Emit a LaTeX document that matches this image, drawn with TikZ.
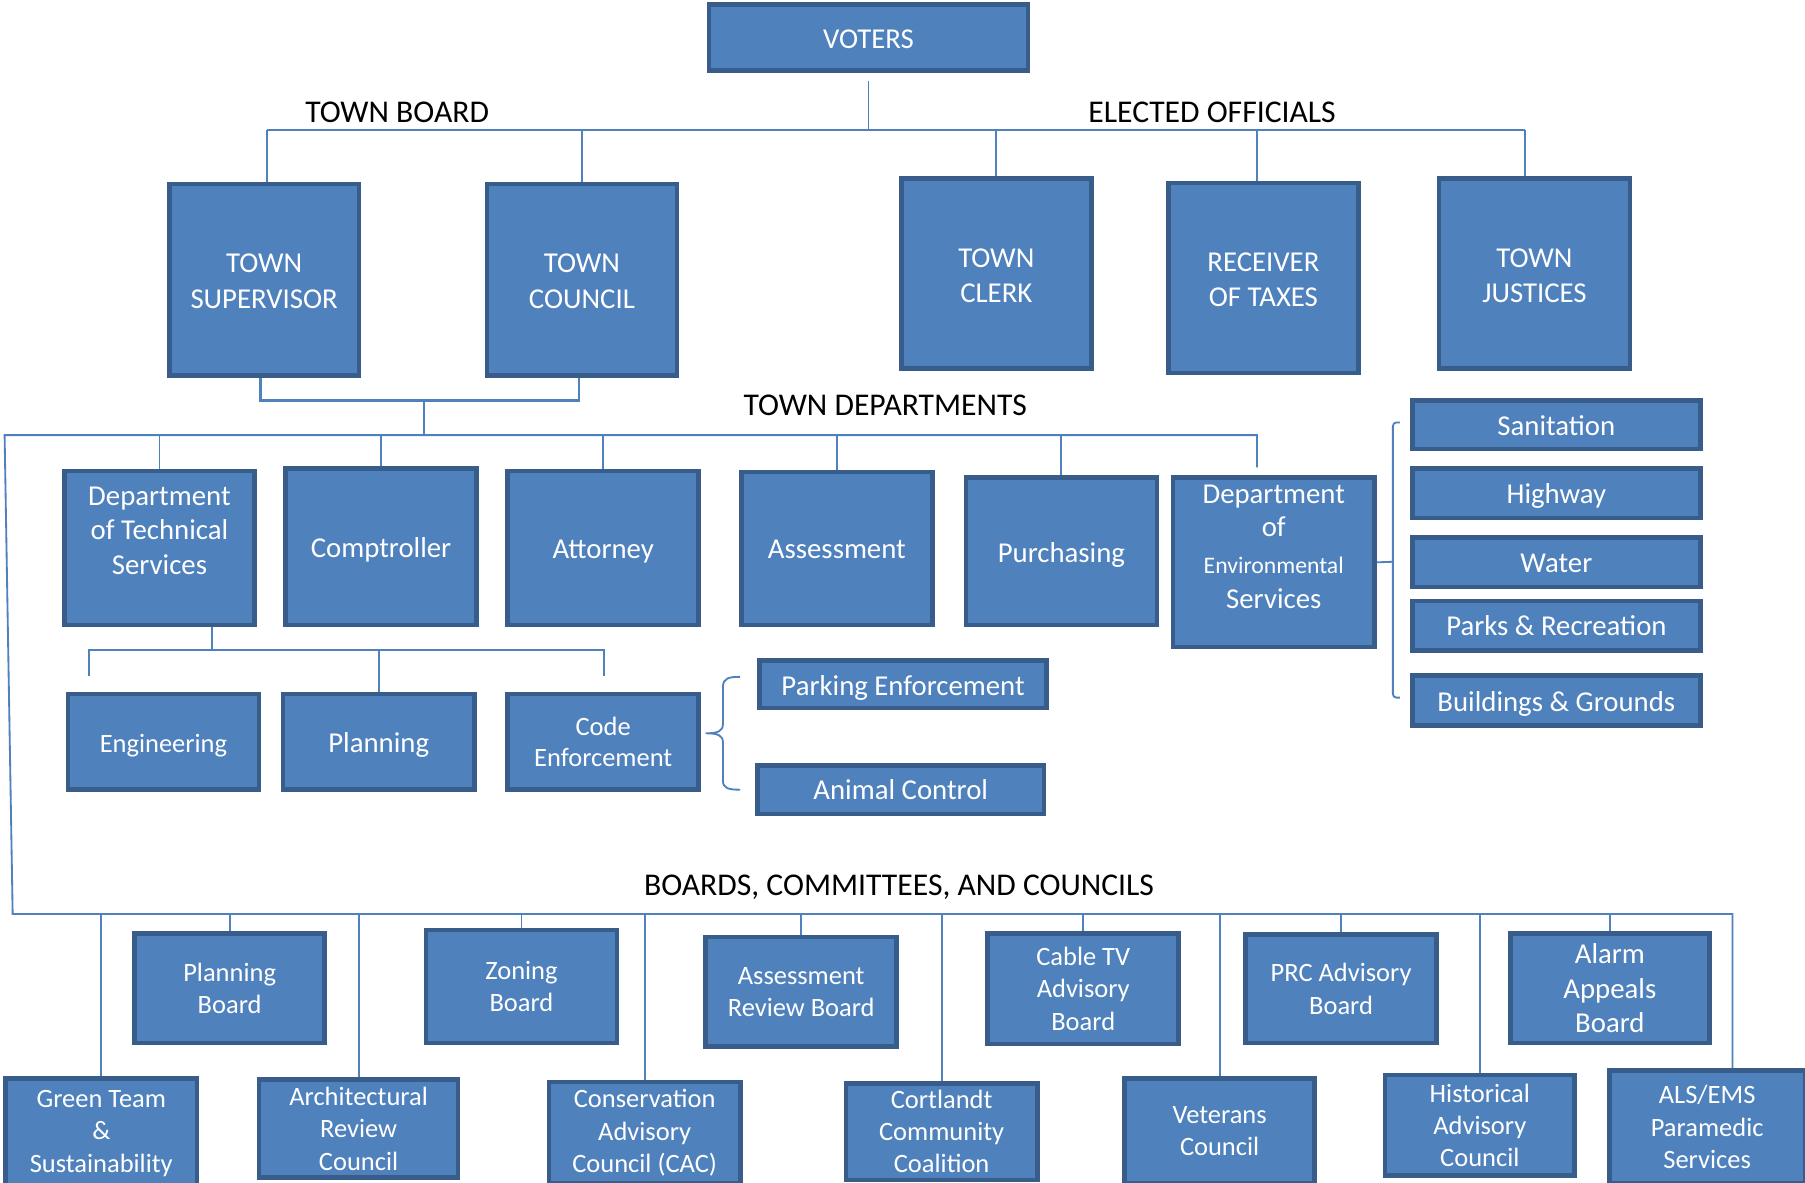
\documentclass[tikz,border=0pt]{standalone}
\usepackage{fontspec}
\setmainfont{Carlito}
\definecolor{boxfill}{HTML}{4F81BD}
\definecolor{boxline}{HTML}{385D8A}
\definecolor{linecol}{HTML}{4F81BD}
\newcommand\obox[7][]{\node[box,minimum width={#5pt-#3pt-4pt},minimum height={#6pt-#4pt-4pt}] (#2) at ({(#3+#5)/2},{(#4+#6)/2}) {};
  \node[boxtext,#1] (#2t) at (#2.center) {#7};}
\begin{document}
\begin{tikzpicture}[x=1pt,y=-1pt,
  box/.style={draw=boxline,line width=4pt,fill=boxfill,inner sep=0pt},
  boxtext/.style={text=white,inner sep=0pt,align=center,font=\fontsize{25}{31}\selectfont},
  small/.style={font=\fontsize{23}{28}\selectfont},
  conn/.style={draw=linecol,line width=1.6pt},
  head/.style={font=\fontsize{27.5}{33}\selectfont,inner sep=0pt,text=black}]
\useasboundingbox (0,0) rectangle (1568,1027);
\fill[white] (0,0) rectangle (1568,1027);
\clip (0,0) rectangle (1568,1027);

% headings
\node[head,anchor=base] (htb) at (345,106.5) {TOWN BOARD};
\node[head,anchor=base] (heo) at (1053,106.5) {ELECTED OFFICIALS};
\node[head,anchor=base] (htd) at (769,361) {TOWN DEPARTMENTS};
\node[head,anchor=base] (hbc) at (781,778) {BOARDS, COMMITTEES, AND COUNCILS};

% bus coordinates
\coordinate (eb) at (755,113);
\coordinate (tbj) at (368,348);
\coordinate (db) at (368,378);
\coordinate (dl) at (4,378);
\coordinate (bl) at (11,794);
\coordinate (ds) at (184,565);

% top level
\obox[yshift=-2pt]{voters}{614}{2}{895}{63}{VOTERS}
\obox[yshift=-1.5pt]{sup}{145}{158}{314}{328}{TOWN\\SUPERVISOR}
\obox[yshift=-1.5pt]{cou}{421}{158}{590}{328}{TOWN\\COUNCIL}
\obox[yshift=-2pt]{clerk}{781}{153}{950}{322}{TOWN\\CLERK}
\obox[yshift=-1.5pt]{rec}{1013}{157}{1182}{326}{RECEIVER\\OF TAXES}
\obox[yshift=-2pt]{jus}{1248}{153}{1418}{322}{TOWN\\JUSTICES}

% departments
\obox{dts}{54}{407}{223}{545}{Department\\[-1pt]of Technical\\[-1pt]Services\\[-1pt]\phantom{X}}
\obox[yshift=-3pt]{comp}{246}{405}{416}{545}{Comptroller}
\obox[yshift=-3.5pt]{att}{439}{407}{609}{545}{Attorney}
\obox[yshift=-1pt]{ass}{642}{408}{812}{545}{Assessment}
\obox[yshift=-3pt]{pur}{837}{413}{1007}{545}{Purchasing}
\obox{des}{1017}{413}{1196}{564}{Department\\[-2pt]of\\[1pt]{\fontsize{20.6}{31}\selectfont Environmental}\\Services\\[-4pt]\phantom{X}}

\obox[small,yshift=-3pt]{eng}{57}{601}{227}{688}{Engineering}
\obox[yshift=-3pt]{plan}{244}{601}{414}{688}{Planning}
\obox[small]{code}{439}{601}{609}{688}{Code\\[-1pt]Enforcement}
\obox[yshift=-3pt]{park}{658}{572}{911}{617}{Parking Enforcement}
\obox{anim}{656}{663}{909}{709}{Animal Control}

\obox[yshift=-1pt]{san}{1225}{346}{1479}{392}{Sanitation}
\obox[yshift=-2pt]{hwy}{1225}{405}{1479}{452}{Highway}
\obox[yshift=-1pt]{wat}{1225}{465}{1479}{512}{Water}
\obox{prk}{1225}{520}{1479}{567}{Parks \& Recreation}
\obox[yshift=-3pt]{bld}{1225}{585}{1479}{632}{Buildings \& Grounds}

% boards
\obox[small]{pb}{115}{809}{284}{908}{Planning\\Board}
\obox[small]{zb}{368}{806}{538}{908}{Zoning\\Board}
\obox[small]{arb}{611}{812}{781}{911}{Assessment\\Review Board}
\obox[small]{ctv}{856}{809}{1026}{909}{Cable TV\\Advisory\\Board}
\obox[small]{prc}{1080}{810}{1250}{908}{PRC Advisory\\Board}
\obox{alarm}{1310}{809}{1487}{908}{Alarm\\[-1pt]Appeals\\[-1pt]Board}

\obox[small]{green}{3}{935}{173}{1034}{Green Team\\\&\\Sustainability}
\obox[small]{arch}{223}{936}{400}{1025}{Architectural\\Review\\Council}
\obox[small]{cac}{475}{938}{645}{1030}{Conservation\\Advisory\\Council (CAC)}
\obox[small]{ccc}{733}{939}{903}{1027}{Cortlandt\\Community\\Coalition}
\obox[small]{vet}{975}{935}{1144}{1030}{Veterans\\Council}
\obox[small]{hist}{1201}{932}{1370}{1023}{Historical\\Advisory\\Council}
\obox[small]{als}{1396}{928}{1570}{1030}{ALS/EMS\\Paramedic\\Services}

% elected connectors
\draw[conn] ([yshift=-7pt]voters.south) -- (voters.south |- eb);
\draw[conn] ([xshift=2.5pt]sup.north |- eb) -- ([xshift=-8pt]jus.north |- eb);
\draw[conn] ([xshift=2.5pt]sup.north) -- ([xshift=2.5pt]sup.north |- eb);
\draw[conn] (cou.north) -- (cou.north |- eb);
\draw[conn] (clerk.north) -- (clerk.north |- eb);
\draw[conn] ([xshift=-5.5pt]rec.north) -- ([xshift=-5.5pt]rec.north |- eb);
\draw[conn] ([xshift=-8pt]jus.north) -- ([xshift=-8pt]jus.north |- eb);

% town board to departments
\draw[conn,line width=2.4pt] ([xshift=-3.5pt]sup.south) -- ([xshift=-3.5pt]sup.south |- tbj) -- ([xshift=-2.5pt]cou.south |- tbj) -- ([xshift=-2.5pt]cou.south);
\draw[conn] (tbj) -- (db);
\draw[conn] ([xshift=-14.5pt,yshift=7pt]des.north) -- ([xshift=-14.5pt]des.north |- db) -- (dl) -- (bl) -- ([xshift=22pt]als.north |- bl) -- ([xshift=22pt]als.north);
\foreach \n in {dts,comp,att,ass,pur} \draw[conn] (\n.north) -- (\n.north |- db);

% technical services
\draw[conn] ([xshift=45.5pt]dts.south) -- ([xshift=45.5pt]dts.south |- ds);
\draw[conn] ([xshift=-65pt,yshift=14pt]eng.north) -- ([xshift=-65pt]eng.north |- ds) -- ([xshift=1pt]code.north |- ds) -- ([xshift=1pt,yshift=14pt]code.north);
\draw[conn] (plan.north) -- (plan.north |- ds);

% code enforcement brace
\draw[conn] (643,588) .. controls (633,588) and (628,589) .. (628,597) -- (628,629) .. controls (628,635) and (624,637) .. (613,637) .. controls (624,637) and (628,639) .. (628,645) -- (628,678) .. controls (628,685) and (633,686) .. (643,686);

% environmental services bracket
\draw[conn] (des.east) -- (1210,488);
\draw[conn,rounded corners=3pt] (1216,367) -- (1210,367) -- (1210,606) -- (1216,606);

% boards drops
\foreach \n in {green,pb,arch,zb,cac,arb,ccc,ctv,vet,prc,hist,alarm} \draw[conn] (\n.north) -- (\n.north |- bl);
\end{tikzpicture}
\end{document}
